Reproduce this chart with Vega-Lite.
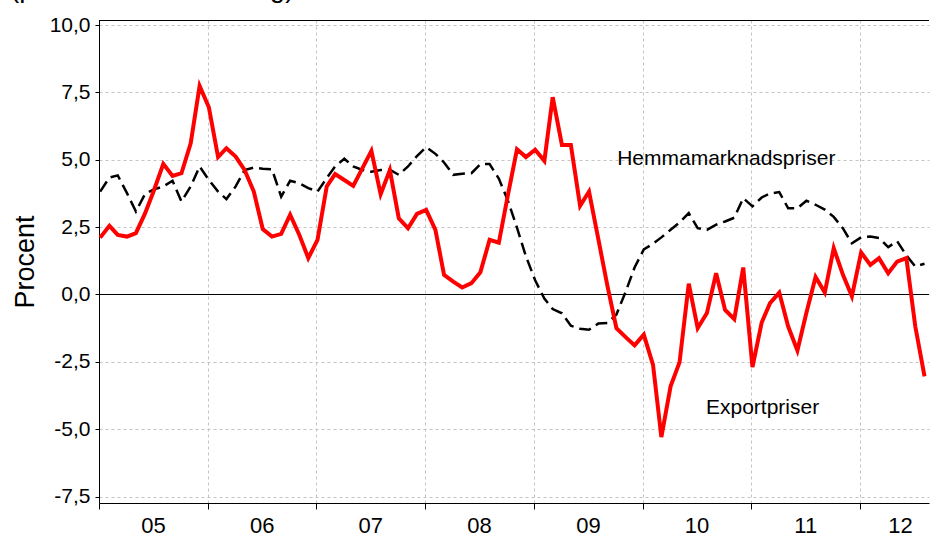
{
  "$schema": "https://vega.github.io/schema/vega-lite/v6.json",
  "width": 830,
  "height": 483,
  "autosize": {"type": "none"},
  "padding": {"left": 99, "top": 20, "right": 1, "bottom": 38},
  "background": "white",
  "config": {
    "view": {"stroke": null},
    "font": "Liberation Sans",
    "text": {"font": "Liberation Sans"}
  },
  "title": {
    "text": "(procentuell förändring)",
    "anchor": "start",
    "frame": "group",
    "font": "Liberation Sans",
    "fontSize": 27.5,
    "fontWeight": "normal",
    "color": "black",
    "baseline": "alphabetic",
    "offset": 0,
    "dy": 10,
    "dx": -89
  },
  "data": {
    "values": [
      {"date": "2005-01-05", "export": 2.11, "hemma": 3.82},
      {"date": "2005-02-05", "export": 2.55, "hemma": 4.34},
      {"date": "2005-03-05", "export": 2.21, "hemma": 4.42},
      {"date": "2005-04-05", "export": 2.15, "hemma": 3.76},
      {"date": "2005-05-05", "export": 2.28, "hemma": 3.08},
      {"date": "2005-06-05", "export": 3.02, "hemma": 3.74},
      {"date": "2005-07-05", "export": 3.88, "hemma": 3.90},
      {"date": "2005-08-05", "export": 4.85, "hemma": 4.01},
      {"date": "2005-09-05", "export": 4.40, "hemma": 4.22},
      {"date": "2005-10-05", "export": 4.50, "hemma": 3.45},
      {"date": "2005-11-05", "export": 5.61, "hemma": 4.01},
      {"date": "2005-12-05", "export": 7.74, "hemma": 4.75},
      {"date": "2006-01-05", "export": 6.95, "hemma": 4.25},
      {"date": "2006-02-05", "export": 5.10, "hemma": 3.82},
      {"date": "2006-03-05", "export": 5.43, "hemma": 3.54},
      {"date": "2006-04-05", "export": 5.12, "hemma": 4.01},
      {"date": "2006-05-05", "export": 4.62, "hemma": 4.62},
      {"date": "2006-06-05", "export": 3.82, "hemma": 4.71},
      {"date": "2006-07-05", "export": 2.43, "hemma": 4.67},
      {"date": "2006-08-05", "export": 2.15, "hemma": 4.65},
      {"date": "2006-09-05", "export": 2.25, "hemma": 3.63},
      {"date": "2006-10-05", "export": 2.96, "hemma": 4.22},
      {"date": "2006-11-05", "export": 2.21, "hemma": 4.13},
      {"date": "2006-12-05", "export": 1.35, "hemma": 3.95},
      {"date": "2007-01-05", "export": 2.03, "hemma": 3.82},
      {"date": "2007-02-05", "export": 4.01, "hemma": 4.32},
      {"date": "2007-03-05", "export": 4.47, "hemma": 4.75},
      {"date": "2007-04-05", "export": 4.25, "hemma": 5.04},
      {"date": "2007-05-05", "export": 4.03, "hemma": 4.75},
      {"date": "2007-06-05", "export": 4.69, "hemma": 4.62},
      {"date": "2007-07-05", "export": 5.33, "hemma": 4.56},
      {"date": "2007-08-05", "export": 3.72, "hemma": 4.62},
      {"date": "2007-09-05", "export": 4.62, "hemma": 4.63},
      {"date": "2007-10-05", "export": 2.83, "hemma": 4.44},
      {"date": "2007-11-05", "export": 2.46, "hemma": 4.75},
      {"date": "2007-12-05", "export": 2.99, "hemma": 5.14},
      {"date": "2008-01-05", "export": 3.14, "hemma": 5.47},
      {"date": "2008-02-05", "export": 2.40, "hemma": 5.22},
      {"date": "2008-03-05", "export": 0.73, "hemma": 4.90},
      {"date": "2008-04-05", "export": 0.48, "hemma": 4.44},
      {"date": "2008-05-05", "export": 0.26, "hemma": 4.48},
      {"date": "2008-06-05", "export": 0.42, "hemma": 4.50},
      {"date": "2008-07-05", "export": 0.82, "hemma": 4.84},
      {"date": "2008-08-05", "export": 2.03, "hemma": 4.84},
      {"date": "2008-09-05", "export": 1.92, "hemma": 4.30},
      {"date": "2008-10-05", "export": 3.66, "hemma": 3.50},
      {"date": "2008-11-05", "export": 5.39, "hemma": 2.48},
      {"date": "2008-12-05", "export": 5.10, "hemma": 1.42},
      {"date": "2009-01-05", "export": 5.37, "hemma": 0.53},
      {"date": "2009-02-05", "export": 4.96, "hemma": -0.15},
      {"date": "2009-03-05", "export": 7.32, "hemma": -0.54},
      {"date": "2009-04-05", "export": 5.55, "hemma": -0.70},
      {"date": "2009-05-05", "export": 5.55, "hemma": -1.16},
      {"date": "2009-06-05", "export": 3.29, "hemma": -1.27},
      {"date": "2009-07-05", "export": 3.82, "hemma": -1.31},
      {"date": "2009-08-05", "export": 2.07, "hemma": -1.08},
      {"date": "2009-09-05", "export": 0.31, "hemma": -1.06},
      {"date": "2009-10-05", "export": -1.25, "hemma": -0.74},
      {"date": "2009-11-05", "export": -1.58, "hemma": 0.10},
      {"date": "2009-12-05", "export": -1.89, "hemma": 1.00},
      {"date": "2010-01-05", "export": -1.49, "hemma": 1.67},
      {"date": "2010-02-05", "export": -2.61, "hemma": 1.88},
      {"date": "2010-03-05", "export": -5.29, "hemma": 2.12},
      {"date": "2010-04-05", "export": -3.41, "hemma": 2.40},
      {"date": "2010-05-05", "export": -2.52, "hemma": 2.67},
      {"date": "2010-06-05", "export": 0.40, "hemma": 3.02},
      {"date": "2010-07-05", "export": -1.25, "hemma": 2.46},
      {"date": "2010-08-05", "export": -0.69, "hemma": 2.40},
      {"date": "2010-09-05", "export": 0.79, "hemma": 2.59},
      {"date": "2010-10-05", "export": -0.57, "hemma": 2.71},
      {"date": "2010-11-05", "export": -0.91, "hemma": 2.85},
      {"date": "2010-12-05", "export": 1.00, "hemma": 3.58},
      {"date": "2011-01-05", "export": -2.69, "hemma": 3.27},
      {"date": "2011-02-05", "export": -1.04, "hemma": 3.60},
      {"date": "2011-03-05", "export": -0.32, "hemma": 3.75},
      {"date": "2011-04-05", "export": 0.07, "hemma": 3.80},
      {"date": "2011-05-05", "export": -1.19, "hemma": 3.20},
      {"date": "2011-06-05", "export": -2.08, "hemma": 3.20},
      {"date": "2011-07-05", "export": -0.69, "hemma": 3.48},
      {"date": "2011-08-05", "export": 0.65, "hemma": 3.33},
      {"date": "2011-09-05", "export": 0.07, "hemma": 3.15},
      {"date": "2011-10-05", "export": 1.72, "hemma": 2.88},
      {"date": "2011-11-05", "export": 0.73, "hemma": 2.45},
      {"date": "2011-12-05", "export": -0.07, "hemma": 1.90},
      {"date": "2012-01-05", "export": 1.56, "hemma": 2.12},
      {"date": "2012-02-05", "export": 1.10, "hemma": 2.15},
      {"date": "2012-03-05", "export": 1.35, "hemma": 2.10},
      {"date": "2012-04-05", "export": 0.79, "hemma": 1.76},
      {"date": "2012-05-05", "export": 1.22, "hemma": 1.98},
      {"date": "2012-06-05", "export": 1.35, "hemma": 1.45},
      {"date": "2012-07-05", "export": -1.19, "hemma": 1.04},
      {"date": "2012-08-05", "export": -3.04, "hemma": 1.14}
    ]
  },
  "layer": [
    {
      "mark": {"type": "line", "color": "black", "strokeWidth": 2.5, "strokeDash": [12, 6]},
      "encoding": {
        "x": {
          "field": "date",
          "type": "temporal",
          "scale": {
            "type": "utc",
            "domain": [
              {"year": 2005, "month": 1, "date": 1, "utc": true},
              {"year": 2012, "month": 8, "date": 20, "utc": true}
            ]
          },
          "axis": {
            "title": null,
            "values": [
              {"year": 2005, "month": 1, "date": 1, "utc": true},
              {"year": 2006, "month": 1, "date": 1, "utc": true},
              {"year": 2007, "month": 1, "date": 1, "utc": true},
              {"year": 2008, "month": 1, "date": 1, "utc": true},
              {"year": 2009, "month": 1, "date": 1, "utc": true},
              {"year": 2010, "month": 1, "date": 1, "utc": true},
              {"year": 2011, "month": 1, "date": 1, "utc": true},
              {"year": 2012, "month": 1, "date": 1, "utc": true}
            ],
            "labelExpr": "utcFormat(datum.value, '%y')",
            "labelOffset": {"condition": {"test": "utcyear(datum.value) === 2012", "value": 40}, "value": 54},
            "labelFlush": false,
            "labelOverlap": false,
            "labelFont": "Liberation Sans",
            "labelFontSize": 22,
            "labelColor": "black",
            "labelPadding": 6,
            "grid": true,
            "gridColor": "#c4c4c4",
            "gridDash": [3, 3],
            "gridWidth": 1,
            "ticks": true,
            "tickColor": "black",
            "tickSize": 6,
            "domain": true,
            "domainColor": "black",
            "domainWidth": 1
          }
        },
        "y": {
          "field": "hemma",
          "type": "quantitative",
          "scale": {"domain": [-7.738, 10.187], "nice": false, "zero": false},
          "axis": {
            "title": "Procent",
            "titleFont": "Liberation Sans",
            "titleFontSize": 27,
            "titleFontWeight": "normal",
            "titleColor": "black",
            "titlePadding": 10,
            "values": [-7.5, -5, -2.5, 0, 2.5, 5, 7.5, 10],
            "labelExpr": "(datum.value < 0 ? '-' : '') + replace(format(abs(datum.value), '.1f'), '.', ',')",
            "labelFont": "Liberation Sans",
            "labelFontSize": 21,
            "labelColor": "black",
            "labelPadding": 5,
            "grid": true,
            "gridColor": "#c4c4c4",
            "gridDash": [3, 3],
            "gridWidth": 1,
            "ticks": true,
            "tickColor": "black",
            "tickSize": 4,
            "domain": true,
            "domainColor": "black",
            "domainWidth": 1
          }
        }
      }
    },
    {
      "data": {"values": [{}]},
      "mark": {"type": "rule", "color": "black", "strokeWidth": 1},
      "encoding": {"y": {"datum": 0, "type": "quantitative"}}
    },
    {
      "data": {"values": [{}]},
      "mark": {"type": "rule", "color": "black", "strokeWidth": 1},
      "encoding": {"y": {"datum": 10.168, "type": "quantitative"}}
    },
    {
      "mark": {"type": "line", "color": "#ff0000", "strokeWidth": 4, "strokeJoin": "miter"},
      "encoding": {
        "x": {"field": "date", "type": "temporal"},
        "y": {"field": "export", "type": "quantitative"}
      }
    },
    {
      "data": {"values": [{}]},
      "mark": {"type": "text", "text": "Hemmamarknadspriser", "font": "Liberation Sans", "fontSize": 21, "color": "black", "align": "center", "baseline": "middle"},
      "encoding": {
        "x": {"datum": {"year": 2010, "month": 10, "date": 9, "utc": true}, "type": "temporal"},
        "y": {"datum": 5.02, "type": "quantitative"}
      }
    },
    {
      "data": {"values": [{}]},
      "mark": {"type": "text", "text": "Exportpriser", "font": "Liberation Sans", "fontSize": 21, "color": "black", "align": "center", "baseline": "middle"},
      "encoding": {
        "x": {"datum": {"year": 2011, "month": 2, "date": 8, "utc": true}, "type": "temporal"},
        "y": {"datum": -4.22, "type": "quantitative"}
      }
    }
  ]
}
